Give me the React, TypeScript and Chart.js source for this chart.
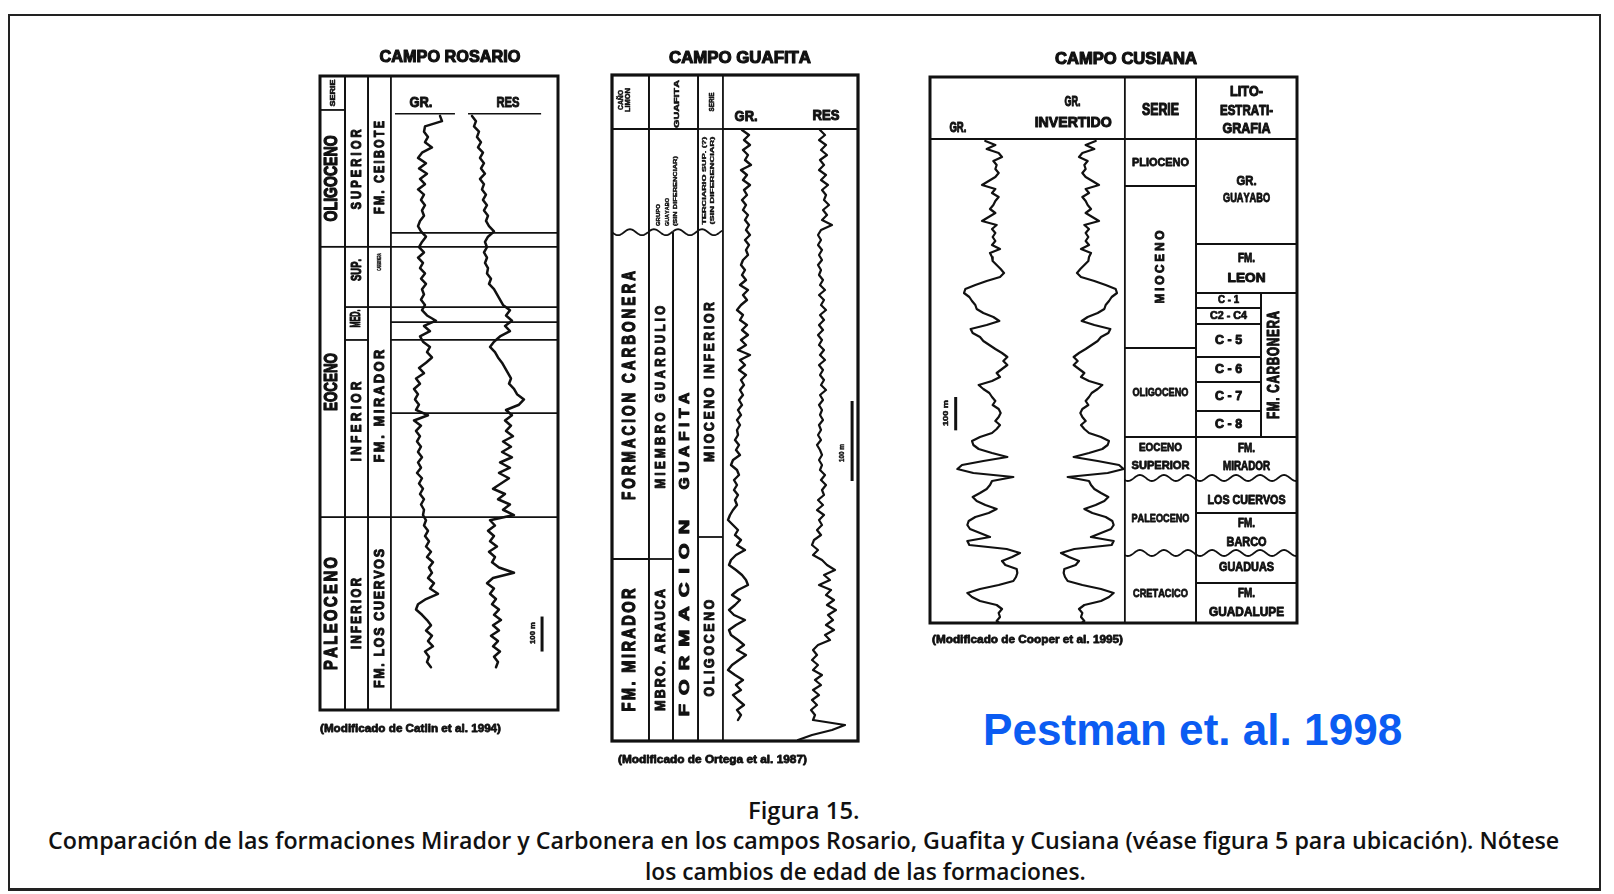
import React, { useEffect, useLayoutEffect, useRef, useState } from 'react';
import { Chart, registerables } from 'chart.js';

Chart.register(...registerables);

const INK = '#111111';
const FONT = '"Liberation Sans", Arial, Helvetica, sans-serif';

// ---------------- DATA ----------------
// CAMPO ROSARIO  (depth in m, 15 m sampling from top of log)
const ROSARIO_EPOCHS = ['SERIE', 'OLIGOCENO', 'EOCENO', 'PALEOCENO'];
const ROSARIO_EPOCH_TOPS = [-114, -17, 374, 1146];
const ROSARIO_SUBEPOCHS = ['SUPERIOR', 'SUP.', 'MED.', 'INFERIOR', 'INFERIOR'];
const ROSARIO_SUBEPOCH_TOPS = [-114, 374, 546, 640, 1146];
const ROSARIO_FORMATIONS = ['FM. CEIBOTE', 'CARBONERA', 'FM. MIRADOR', 'FM. LOS CUERVOS'];
const ROSARIO_FORMATION_TOPS = [-114, 374, 546, 1146];
const ROSARIO_LOG_MARKERS = [334, 374, 546, 589, 640, 849, 1146];
const ROSARIO_BASE = 1697;
const ROSARIO_LOG_TOP = 0;
const ROSARIO_STEP = 15;
const ROSARIO_GR = [
  90, 94, 60, 58, 66, 60, 74, 54, 46, 62,
  48, 64, 50, 60, 46, 58, 52, 60, 54, 58,
  50, 46, 52, 62, 54, 48, 58, 46, 56, 50,
  60, 52, 62, 54, 58, 52, 60, 54, 64, 82,
  58, 70, 50, 56, 70, 64, 74, 62, 48, 58,
  42, 50, 38, 46, 40, 48,
  42, 66, 38, 52,
  42, 50, 44, 52, 46, 54, 46, 52, 44, 54,
  48, 56, 50, 58, 52, 58, 56, 62, 58, 66,
  60, 68, 62, 72, 64, 76, 68, 74, 66, 78,
  70, 86, 62, 46, 42, 54, 64, 72, 62, 74,
  66, 76, 60, 68, 64, 72,
];
const ROSARIO_RES = [
  4, 8, 6, 11, 9, 13, 10, 15, 12, 16,
  13, 17, 12, 16, 14, 18, 15, 19, 16, 20,
  18, 21, 26, 20, 17, 19, 16, 19, 17, 20,
  19, 23, 21, 26, 29, 32, 35, 42, 38, 44,
  37, 42, 32, 26, 22, 27, 30, 34, 37, 40,
  43, 41, 46, 49, 56, 51,
  38, 44, 37, 43, 38, 45, 35, 43, 34, 44,
  32, 42, 31, 41, 33, 25, 37, 30, 42, 35,
  46, 22, 27, 20, 26, 22, 29, 21, 27, 24,
  31, 46, 25, 19, 26, 22, 28, 24, 31, 26,
  33, 25, 31, 23, 30, 25, 32, 26, 30, 28,
];

// CAMPO GUAFITA (depth in m, 6.25 m sampling)
const GUAFITA_COL1 = ['CAÑO\nLIMON', '', 'FORMACION CARBONERA', 'FM. MIRADOR'];
const GUAFITA_COL1_TOPS = [-67.5, 0, 129, 537.5];
const GUAFITA_COL2_UPPER = ['GUAFITA', 'GRUPO\nGUAYABO\n(SIN DIFERENCIAR)'];
const GUAFITA_COL2_UPPER_TOPS = [-67.5, 0];
const GUAFITA_MEMBERS = ['MIEMBRO GUARDULIO', 'MBRO. ARAUCA'];
const GUAFITA_MEMBER_TOPS = [129, 537.5];
const GUAFITA_FORMATION = ['FORMACION GUAFITA'];
const GUAFITA_FORMATION_TOPS = [129];
const GUAFITA_SERIES = ['SERIE', 'TERCIARIO SUP. (?)\n(SIN DIFERENCIAR)', 'MIOCENO INFERIOR', 'OLIGOCENO'];
const GUAFITA_SERIES_TOPS = [-67.5, 0, 129, 510];
const GUAFITA_UNCONFORMITIES = [129];
const GUAFITA_BASE = 765;
const GUAFITA_LOG_TOP = 1.25;
const GUAFITA_STEP = 6.25;
const GUAFITA_GR = [
  34, 48, 38, 50, 36, 46, 40, 52, 32, 44,
  36, 50, 38, 44, 34, 42, 36, 46, 40, 48,
  42, 50, 40, 48, 42, 46, 36, 32, 40, 34,
  42, 30, 46, 36, 44, 32, 24, 36, 30, 44,
  34, 46, 32, 42, 26, 50, 30, 40, 28, 42,
  32, 38, 30, 36, 28, 34, 26, 32, 24, 30,
  24,
  26, 20, 28, 22, 30, 16, 12, 24, 28, 18,
  24, 18, 26, 20, 24, 16, 10, 6, 16, 26,
  20, 32, 24, 40, 22, 12, 8, 22, 34, 42,
  46, 26, 14, 30, 20, 8, 18, 40, 22, 8,
  12, 26, 38, 24, 42, 28, 14, 6, 20, 36,
  22, 32, 16, 26, 38, 24, 32, 26,
];
const GUAFITA_RES = [
  30, 35, 29, 36, 31, 37, 30, 34, 29, 36,
  31, 38, 32, 36, 34, 39, 33, 37, 32, 42,
  31, 28, 31, 28, 32, 29, 32, 28, 31, 29,
  33, 30, 35, 29, 34, 31, 36, 30, 34, 29,
  33, 28, 32, 29, 34, 30, 35, 29, 33, 30,
  34, 31, 36, 30, 33, 29, 32, 30, 33, 29,
  31,
  28, 31, 27, 30, 32, 29, 32, 30, 35, 31,
  36, 32, 34, 28, 33, 27, 34, 29, 32, 27,
  31, 24, 22, 28, 23, 32, 37, 45, 34, 40,
  29, 41, 36, 44, 37, 46, 38, 43, 36, 44,
  35, 40, 28, 23, 27, 22, 28, 23, 32, 25,
  31, 23, 29, 22, 27, 21, 25, 23, 55, 42,
  22, 8,
];

// CAMPO CUSIANA (depth in m, 12 m sampling)
const CUSIANA_SERIES = ['SERIE', 'PLIOCENO', 'MIOCENO', 'OLIGOCENO', 'EOCENO\nSUPERIOR', 'PALEOCENO', 'CRETACICO'];
const CUSIANA_SERIES_TOPS = [-186, 0, 141, 627, 894, 1017, 1242];
const CUSIANA_UPPER_UNITS = ['LITO-\nESTRATI-\nGRAFIA', 'GR.\nGUAYABO', 'FM.\nLEON'];
const CUSIANA_UPPER_TOPS = [-186, 0, 315];
const CUSIANA_MEMBERS = ['C - 1', 'C2 - C4', 'C - 5', 'C - 6', 'C - 7', 'C - 8'];
const CUSIANA_MEMBER_TOPS = [462, 507, 555, 654, 729, 816];
const CUSIANA_CARBONERA = ['FM. CARBONERA'];
const CUSIANA_CARBONERA_TOPS = [462];
const CUSIANA_LOWER_UNITS = ['FM.\nMIRADOR', 'LOS CUERVOS', 'FM.\nBARCO', 'GUADUAS', 'FM.\nGUADALUPE'];
const CUSIANA_LOWER_TOPS = [894, 1017, 1122, 1242, 1332];
const CUSIANA_UNCONFORMITIES = [1017, 1242];
const CUSIANA_BASE = 1452;
const CUSIANA_LOG_TOP = 6;
const CUSIANA_STEP = 12;
const CUSIANA_GR = [
  53, 68, 55, 73, 78, 65, 70, 68, 73, 68,
  58, 48, 68, 63, 73, 68, 65, 60, 68, 58,
  48, 70, 63, 68, 64, 68, 63, 75, 60, 63,
  64, 70, 76, 81, 75, 55, 38, 23, 21, 29,
  33, 38, 40, 50, 65, 74, 55, 31, 34, 45,
  50, 59, 68, 78, 86, 80, 86, 78, 70, 75,
  63, 43, 50, 59, 63, 68, 64, 73, 76, 73,
  68, 75, 70, 63, 45, 33, 35, 43, 63, 86,
  50, 18, 11, 35, 95, 63, 60, 55, 45, 34,
  40, 53, 70, 58, 38, 28, 26, 30, 45, 60,
  26, 29, 85, 105, 93, 78, 83, 100, 101, 99,
  95, 73, 45, 26, 33, 45, 70, 78, 73, 75,
  70, 78,
];

// ---------------- HELPERS ----------------
function trackRange(v0: number, v1: number, f0: number, f1: number) {
  const span = (v1 - v0) / (f1 - f0);
  const min = v0 - f0 * span;
  return { min, max: min + span };
}

function strokeLine(ctx: any, x0: number, y0: number, x1: number, y1: number) {
  ctx.beginPath();
  ctx.moveTo(x0, y0);
  ctx.lineTo(x1, y1);
  ctx.stroke();
}

function strokeWavy(ctx: any, x0: number, x1: number, y: number, origin: number) {
  const amp = 3;
  const per = 24;
  ctx.beginPath();
  let first = true;
  for (let x = x0; x <= x1 + 0.01; x += 1) {
    const yy = y + amp * Math.sin(((x - origin) / per) * Math.PI * 2);
    if (first) { ctx.moveTo(x, yy); first = false; } else ctx.lineTo(x, yy);
  }
  ctx.stroke();
}

function spaced(ctx: any, s: string, yOff: number, len: number, ls: number, align: string, heavy: number) {
  const chars = Array.from(s);
  const ws = chars.map((c) => ctx.measureText(c).width);
  const nat = ws.reduce((a, b) => a + b, 0) + ls * (chars.length - 1);
  const k = len / nat;
  ctx.save();
  ctx.translate(0, yOff);
  ctx.scale(k, 1);
  ctx.lineWidth = heavy;
  ctx.lineJoin = 'round';
  let x = align === 'center' ? -nat / 2 : 0;
  chars.forEach((c, i) => {
    ctx.fillText(c, x, 0);
    if (heavy > 0) ctx.strokeText(c, x, 0);
    x += ws[i] + ls;
  });
  ctx.restore();
}

function drawLabel(ctx: any, text: string, x: number, y: number, st: any) {
  if (st.words) {
    const parts = text.split(' ');
    parts.forEach((w, i) =>
      drawLabel(ctx, w, x, y, { ...st, words: undefined, len: st.words[i].len, ls: st.words[i].ls, dy: (st.dy || 0) + st.words[i].dy })
    );
    return;
  }
  const lines = text.split('\n');
  const lens = Array.isArray(st.len) ? st.len : lines.map(() => st.len);
  const lh = st.lh ?? st.fs * 1.15;
  ctx.save();
  ctx.translate(x + (st.dx || 0), y + (st.dy || 0));
  if (st.rot) ctx.rotate(-Math.PI / 2);
  ctx.font = `bold ${st.fs}px ${FONT}`;
  ctx.textBaseline = 'middle';
  ctx.textAlign = 'left';
  ctx.fillStyle = INK;
  ctx.strokeStyle = INK;
  const heavy = st.heavy ?? st.fs * 0.07;
  lines.forEach((ln, k) => {
    const off = (k - (lines.length - 1) / 2) * lh;
    spaced(ctx, ln, off, lens[k], st.ls || 0, st.align || 'center', heavy);
  });
  ctx.restore();
}

function stratPlugin(cfg: any) {
  return {
    id: 'strat',
    beforeDatasetsDraw(chart: any) {
      const ctx = chart.ctx;
      const xs = chart.scales.x;
      const ys = chart.scales.y;
      const px = (f: number) => xs.getPixelForValue(f);
      const py = (d: number) => ys.getPixelForValue(d);
      const area = chart.chartArea;
      ctx.save();
      ctx.strokeStyle = INK;
      ctx.fillStyle = INK;
      ctx.lineCap = 'butt';
      // stratigraphic columns
      for (const c of cfg.cols) {
        const xa = px(c.x0);
        const xb = px(c.x1);
        const ya = py(c.tops[0]);
        const yb = py(c.bottom);
        ctx.lineWidth = cfg.lw;
        ctx.strokeStyle = INK;
        strokeLine(ctx, xa, ya, xa, yb);
        strokeLine(ctx, xb, ya, xb, yb);
        c.tops.forEach((t: number, i: number) => {
          const y = py(t);
          ctx.lineWidth = cfg.lw;
          ctx.strokeStyle = INK;
          if (c.wavy && c.wavy.includes(t)) strokeWavy(ctx, xa, xb, y, area.left);
          else strokeLine(ctx, xa, y, xb, y);
          const nb = i + 1 < c.tops.length ? c.tops[i + 1] : c.bottom;
          const lab = c.labels[i];
          if (lab) drawLabel(ctx, lab, (xa + xb) / 2, (y + py(nb)) / 2, c.styles[i]);
        });
      }
      // marker lines on the log tracks
      for (const m of cfg.markers) {
        ctx.lineWidth = m.lw || cfg.lw;
        ctx.strokeStyle = INK;
        for (const d of m.depths) strokeLine(ctx, px(m.x0), py(d), px(m.x1), py(d));
      }
      // header texts
      for (const t of cfg.texts) drawLabel(ctx, t.t, px(t.x), py(t.d), t.st);
      // scale bar
      const sb = cfg.scaleBar;
      ctx.lineWidth = 3;
      ctx.strokeStyle = INK;
      strokeLine(ctx, px(sb.x), py(sb.d0), px(sb.x), py(sb.d1));
      drawLabel(ctx, sb.label, px(sb.tx), py(sb.td), sb.st);
      // title & note
      drawLabel(ctx, cfg.title.t, area.left + cfg.title.dx, area.top + cfg.title.dy, cfg.title.st);
      drawLabel(ctx, cfg.note.t, area.left + cfg.note.dx, area.bottom + cfg.note.dy, cfg.note.st);
      ctx.restore();
    },
    afterDatasetsDraw(chart: any) {
      const ctx = chart.ctx;
      const a = chart.chartArea;
      ctx.save();
      ctx.strokeStyle = INK;
      ctx.lineWidth = cfg.border;
      ctx.strokeRect(a.left, a.top, a.right - a.left, a.bottom - a.top);
      ctx.restore();
    },
  };
}

// ---------------- PANEL LAYOUTS ----------------
const R = (fs: number, len: any, extra: any = {}) => ({ fs, len, rot: true, ...extra });
const H = (fs: number, len: any, extra: any = {}) => ({ fs, len, ...extra });

const ROSARIO_CFG = {
  left: 300, top: 30, w: 290, h: 720,
  pad: { left: 20, top: 46, right: 32, bottom: 40 },
  yMin: ROSARIO_EPOCH_TOPS[0], yMax: ROSARIO_BASE, lw: 1.8, border: 3,
  cols: [
    { x0: 0, x1: 0.105, tops: ROSARIO_EPOCH_TOPS, bottom: ROSARIO_BASE, labels: ROSARIO_EPOCHS,
      styles: [R(8, 27), R(18, 86), R(18, 58), R(18, 113, { ls: 3 })] },
    { x0: 0.105, x1: 0.202, tops: ROSARIO_SUBEPOCH_TOPS, bottom: ROSARIO_BASE, labels: ROSARIO_SUBEPOCHS,
      styles: [R(15, 80, { ls: 4, dy: 8 }), R(15, 22, { dy: -7 }), R(14, 18, { dy: -5 }), R(15, 80, { ls: 4, dy: -7 }), R(15, 71, { ls: 3 })] },
    { x0: 0.202, x1: 0.298, tops: ROSARIO_FORMATION_TOPS, bottom: ROSARIO_BASE, labels: ROSARIO_FORMATIONS,
      styles: [R(15, 93, { ls: 3, dy: 6 }), R(6, 17, { dy: -15 }), R(15, 113, { ls: 3, dy: -6 }), R(15, 139, { ls: 2, dy: 5 })] },
  ],
  markers: [
    { depths: ROSARIO_LOG_MARKERS, x0: 0.298, x1: 1 },
    { depths: [-6], x0: 0.315, x1: 0.567, lw: 1.5 },
    { depths: [-6], x0: 0.622, x1: 0.929, lw: 1.5 },
  ],
  texts: [
    { t: 'GR.', x: 0.424, d: -37, st: H(14, 23) },
    { t: 'RES', x: 0.79, d: -37, st: H(14, 23) },
  ],
  scaleBar: { x: 0.933, d0: 1430, d1: 1530, label: '100 m', tx: 0.895, td: 1477, st: R(7, 22) },
  tracks: [
    { values: ROSARIO_GR, top: ROSARIO_LOG_TOP, step: ROSARIO_STEP, v0: 0, v1: 150, f0: 0.3151, f1: 0.6303, lw: 2.5 },
    { values: ROSARIO_RES, top: ROSARIO_LOG_TOP, step: ROSARIO_STEP, v0: 0, v1: 80, f0: 0.6218, f1: 0.958, lw: 2.5 },
  ],
  title: { t: 'CAMPO ROSARIO', dx: 130, dy: -19, st: H(17, 141) },
  note: { t: '(Modificado de Catlin et al. 1994)', dx: 0, dy: 19, st: H(11, 181, { align: 'left' }) },
};

const GUAFITA_CFG = {
  left: 590, top: 30, w: 290, h: 750,
  pad: { left: 22, top: 45, right: 22, bottom: 39 },
  yMin: GUAFITA_COL1_TOPS[0], yMax: GUAFITA_BASE, lw: 1.8, border: 3.2,
  cols: [
    { x0: 0, x1: 0.15, tops: GUAFITA_COL1_TOPS, bottom: GUAFITA_BASE, labels: GUAFITA_COL1, wavy: GUAFITA_UNCONFORMITIES,
      styles: [R(8, [20, 24], { lh: 7, dx: -6, dy: -2 }), R(8, 1), R(18, 229, { ls: 4, dy: -10 }), R(18, 123, { ls: 3 })] },
    { x0: 0.15, x1: 0.35, tops: GUAFITA_COL2_UPPER_TOPS, bottom: GUAFITA_UNCONFORMITIES[0], labels: GUAFITA_COL2_UPPER,
      styles: [R(8, 48, { dx: 3.5, dy: 2 }), R(6, [22, 28, 70], { lh: 8.5, dx: -6.5, dy: 45.5, align: 'left' })] },
    { x0: 0.15, x1: 0.248, tops: GUAFITA_MEMBER_TOPS, bottom: GUAFITA_BASE, labels: GUAFITA_MEMBERS, wavy: GUAFITA_UNCONFORMITIES,
      styles: [R(14, 183, { ls: 4, dy: 1.5 }), R(14, 122, { ls: 2 })] },
    { x0: 0.248, x1: 0.35, tops: GUAFITA_FORMATION_TOPS, bottom: GUAFITA_BASE, labels: GUAFITA_FORMATION, wavy: GUAFITA_UNCONFORMITIES,
      styles: [R(14, 0, { words: [{ dy: 131.5, len: 197, ls: 6 }, { dy: -45.5, len: 97, ls: 4 }] })] },
    { x0: 0.35, x1: 0.451, tops: GUAFITA_SERIES_TOPS, bottom: GUAFITA_BASE, labels: GUAFITA_SERIES, wavy: GUAFITA_UNCONFORMITIES,
      styles: [R(8, 19, { dx: 1.5 }), R(5, [88, 88], { lh: 8, dx: -1.5 }), R(14, 160, { ls: 3, dy: -2.5 }), R(14, 97, { ls: 3, dy: 9 })] },
  ],
  markers: [{ depths: [0], x0: 0.451, x1: 1 }],
  texts: [
    { t: 'GR.', x: 0.545, d: -15, st: H(15, 23) },
    { t: 'RES', x: 0.87, d: -16, st: H(15, 27) },
  ],
  scaleBar: { x: 0.976, d0: 340, d1: 440, label: '100 m', tx: 0.935, td: 405, st: R(7, 18) },
  tracks: [
    { values: GUAFITA_GR, top: GUAFITA_LOG_TOP, step: GUAFITA_STEP, v0: 0, v1: 150, f0: 0.4593, f1: 0.7642, lw: 2.4 },
    { values: GUAFITA_RES, top: GUAFITA_LOG_TOP, step: GUAFITA_STEP, v0: 0, v1: 65, f0: 0.7236, f1: 0.9878, lw: 2.2 },
  ],
  title: { t: 'CAMPO GUAFITA', dx: 128, dy: -17, st: H(17, 142) },
  note: { t: '(Modificado de Ortega et al. 1987)', dx: 6, dy: 19, st: H(11, 189, { align: 'left' }) },
};

const CUSIANA_CFG = {
  left: 910, top: 30, w: 410, h: 630,
  pad: { left: 20, top: 47, right: 23, bottom: 37 },
  yMin: CUSIANA_SERIES_TOPS[0], yMax: CUSIANA_BASE, lw: 1.8, border: 3,
  cols: [
    { x0: 0.531, x1: 0.725, tops: CUSIANA_SERIES_TOPS, bottom: CUSIANA_BASE, labels: CUSIANA_SERIES, wavy: CUSIANA_UNCONFORMITIES,
      styles: [H(16, 37, { dy: 3 }), H(11, 57), R(13, 73, { ls: 3 }), H(11, 56), H(11, [43, 58], { lh: 18, dy: -1 }), H(11, 58, { dy: 3 }), H(11, 55, { dy: 6 })] },
    { x0: 0.725, x1: 1, tops: CUSIANA_UPPER_TOPS, bottom: CUSIANA_MEMBER_TOPS[0], labels: CUSIANA_UPPER_UNITS,
      styles: [H(15, [33, 53, 48], { lh: 18.5, dy: 2.5 }), H(12, [20, 47], { lh: 17, dy: -1 }), H(13, [17, 38], { lh: 20 })] },
    { x0: 0.725, x1: 0.902, tops: CUSIANA_MEMBER_TOPS, bottom: CUSIANA_LOWER_TOPS[0], labels: CUSIANA_MEMBERS,
      styles: [H(10, 21), H(10, 37), H(13, 27), H(13, 27), H(13, 27), H(13, 27)] },
    { x0: 0.902, x1: 1, tops: CUSIANA_CARBONERA_TOPS, bottom: CUSIANA_LOWER_TOPS[0], labels: CUSIANA_CARBONERA,
      styles: [R(16, 108, { ls: 1, dx: -4 })] },
    { x0: 0.725, x1: 1, tops: CUSIANA_LOWER_TOPS, bottom: CUSIANA_BASE, labels: CUSIANA_LOWER_UNITS, wavy: CUSIANA_UNCONFORMITIES,
      styles: [H(12, [17, 47], { lh: 18 }), H(12, 78, { dy: 5 }), H(12, [17, 40], { lh: 19 }), H(12, 55), H(12, [17, 75], { lh: 19 })] },
  ],
  markers: [{ depths: [0], x0: 0, x1: 0.531 }],
  texts: [
    { t: 'GR.', x: 0.076, d: -33, st: H(15, 17) },
    { t: 'GR.', x: 0.388, d: -111, st: H(15, 16) },
    { t: 'INVERTIDO', x: 0.39, d: -48, st: H(15, 77) },
  ],
  scaleBar: { x: 0.07, d0: 774, d1: 874, label: '100 m', tx: 0.044, td: 822, st: R(7, 26) },
  tracks: [
    { values: CUSIANA_GR, top: CUSIANA_LOG_TOP, step: CUSIANA_STEP, v0: 0, v1: 150, f0: 0.0545, f1: 0.327, lw: 2.2 },
    { values: CUSIANA_GR, top: CUSIANA_LOG_TOP, step: CUSIANA_STEP, v0: 0, v1: 150, f0: 0.5477, f1: 0.2752, lw: 2.2, reverse: true },
  ],
  title: { t: 'CAMPO CUSIANA', dx: 196, dy: -18, st: H(17, 142) },
  note: { t: '(Modificado de Cooper et al. 1995)', dx: 2, dy: 17, st: H(11, 191, { align: 'left' }) },
};

// ---------------- COMPONENTS ----------------
function Panel({ cfg }: { cfg: any }) {
  const ref = useRef<HTMLCanvasElement>(null);
  useEffect(() => {
    if (!ref.current) return;
    const scales: any = {
      x: { type: 'linear', min: 0, max: 1, display: false, bounds: 'data' },
      y: { type: 'linear', min: cfg.yMin, max: cfg.yMax, reverse: true, display: false, bounds: 'data' },
    };
    const datasets = cfg.tracks.map((t: any, k: number) => {
      const id = 'x' + k + 'track';
      const r = t.reverse ? trackRange(t.v0, t.v1, 1 - t.f0, 1 - t.f1) : trackRange(t.v0, t.v1, t.f0, t.f1);
      scales[id] = { type: 'linear', axis: 'x', min: r.min, max: r.max, reverse: !!t.reverse, display: false, bounds: 'data' };
      return {
        data: t.values.map((v: number, i: number) => ({ x: v, y: t.top + i * t.step })),
        xAxisID: id,
        yAxisID: 'y',
        borderColor: INK,
        borderWidth: t.lw,
        pointRadius: 0,
        fill: false,
        tension: 0,
        borderJoinStyle: 'round',
        borderCapStyle: 'round',
      };
    });
    const chart = new Chart(ref.current, {
      type: 'line',
      data: { datasets },
      options: {
        responsive: false,
        maintainAspectRatio: false,
        animation: false,
        devicePixelRatio: 1,
        events: [],
        layout: { padding: cfg.pad },
        scales,
        plugins: { legend: { display: false }, tooltip: { enabled: false }, title: { display: false } },
      } as any,
      plugins: [stratPlugin(cfg)],
    });
    return () => chart.destroy();
  }, []);
  return (
    <canvas
      ref={ref}
      width={cfg.w}
      height={cfg.h}
      style={{ position: 'absolute', left: cfg.left, top: cfg.top, width: cfg.w, height: cfg.h }}
    />
  );
}

function FitText(props: any) {
  const { text, left, cx, cy, width, fontSize, family, weight, color } = props;
  const ref = useRef<HTMLSpanElement>(null);
  const [k, setK] = useState(1);
  useLayoutEffect(() => {
    const measure = () => {
      const el = ref.current;
      if (!el) return;
      const w = el.offsetWidth;
      if (w > 0) setK(width / w);
    };
    measure();
    if ((document as any).fonts && (document as any).fonts.ready) (document as any).fonts.ready.then(measure);
  }, []);
  const x = left !== undefined ? left : cx - width / 2;
  return (
    <span
      ref={ref}
      style={{
        position: 'absolute',
        left: x,
        top: cy - fontSize * 0.6,
        fontSize,
        lineHeight: `${fontSize * 1.2}px`,
        fontFamily: family,
        fontWeight: weight,
        color,
        whiteSpace: 'nowrap',
        transform: `scaleX(${k})`,
        transformOrigin: '0 0',
      }}
    >
      {text}
    </span>
  );
}

const CAPTION_FONT = '"Open Sans", "Noto Sans", sans-serif';

export default function App() {
  return (
    <div style={{ position: 'fixed', left: 0, top: 0, width: 1614, height: 894, background: '#ffffff', overflow: 'hidden' }}>
      <div
        style={{
          position: 'absolute', left: 8, top: 14, width: 1593, height: 877, boxSizing: 'border-box',
          borderTop: '2px solid #222', borderLeft: '2px solid #222', borderRight: '2px solid #222', borderBottom: '3px solid #222',
        }}
      />
      <Panel cfg={ROSARIO_CFG} />
      <Panel cfg={GUAFITA_CFG} />
      <Panel cfg={CUSIANA_CFG} />
      <FitText text="Pestman et. al. 1998" left={983} cy={730} width={419} fontSize={44} family={FONT} weight={700} color="#0b5cf2" />
      <FitText text="Figura 15." cx={804} cy={810} width={112} fontSize={24} family={CAPTION_FONT} weight={600} color="#111" />
      <FitText
        text="Comparación de las formaciones Mirador y Carbonera en los campos Rosario, Guafita y Cusiana (véase figura 5 para ubicación). Nótese"
        left={48} cy={840} width={1511} fontSize={24} family={CAPTION_FONT} weight={600} color="#111"
      />
      <FitText text="los cambios de edad de las formaciones." left={645} cy={871} width={441} fontSize={24} family={CAPTION_FONT} weight={600} color="#111" />
    </div>
  );
}
